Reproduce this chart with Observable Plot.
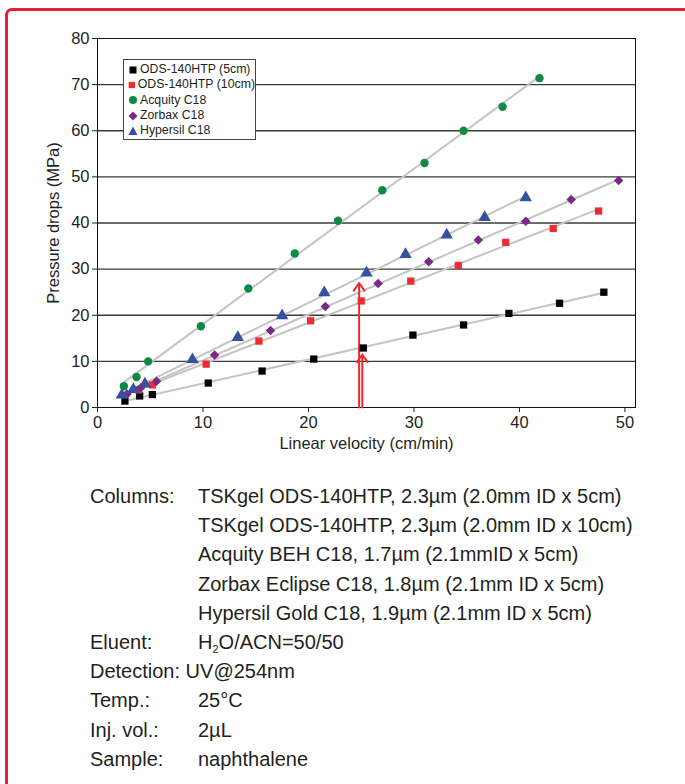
<!DOCTYPE html>
<html>
<head>
<meta charset="utf-8">
<script src="https://cdn.jsdelivr.net/npm/d3@7"></script>
<script src="https://cdn.jsdelivr.net/npm/@observablehq/plot@0.6"></script>
<style>
  html, body { margin: 0; padding: 0; background: #fff; }
  body { width: 685px; height: 784px; overflow: hidden; position: relative; font-family: "Liberation Sans", Arial, sans-serif; color: #231f20; }
  #border { position: absolute; left: 5px; top: 8px; width: 720px; height: 820px; border: 3px solid #e2203c; border-radius: 7px; box-sizing: border-box; }
  #chart { position: absolute; left: 0; top: 0; }
  #legend { position: absolute; left: 123px; top: 59px; width: 133px; height: 81px; border: 1px solid #444; background: #fff; box-sizing: border-box; padding-top: 2px; }
  #legend .item { height: 15.3px; line-height: 15.3px; font-size: 12.3px; white-space: nowrap; display: flex; align-items: center; }
  #legend svg { width: 14px; height: 12px; margin-left: 2px; margin-right: 0px; }
  #notes { position: absolute; left: 90px; top: 482px; font-size: 20px; line-height: 29.2px; white-space: nowrap; }
  #notes .lab { display: inline-block; width: 108px; }
  #notes sub { font-size: 11px; vertical-align: -4px; line-height: 0; }
</style>
</head>
<body>
<div id="border"></div>
<div id="chart"></div>
<div id="legend"></div>
<div id="notes"></div>
<script>
// ---------- data ----------
const seriesNames = ["ODS-140HTP (5cm)", "ODS-140HTP (10cm)", "Acquity C18", "Zorbax C18", "Hypersil C18"];
const seriesColors = ["#000000", "#ee2b2e", "#0f8a46", "#7a2a86", "#3650a2"];
const seriesSymbols = ["square", "square", "circle", "diamond2", "triangle"];

const velocityODS5 = [2.6, 4.0, 5.2, 10.5, 15.6, 20.5, 25.2, 29.9, 34.7, 39.0, 43.8, 48.0];
const pressureODS5 = [1.4, 2.5, 2.8, 5.3, 7.9, 10.5, 12.9, 15.7, 17.9, 20.4, 22.6, 25.0];

const velocityODS10 = [3.9, 5.2, 10.3, 15.3, 20.2, 25.0, 29.7, 34.2, 38.7, 43.2, 47.5];
const pressureODS10 = [3.8, 4.9, 9.4, 14.4, 18.8, 23.1, 27.4, 30.8, 35.8, 38.8, 42.6];

const velocityAcquity = [2.5, 3.7, 4.8, 9.8, 14.3, 18.7, 22.8, 27.0, 31.0, 34.7, 38.4, 41.9];
const pressureAcquity = [4.6, 6.6, 10.0, 17.6, 25.8, 33.4, 40.5, 47.1, 53.0, 60.0, 65.2, 71.4];

const velocityZorbax = [2.8, 4.1, 5.6, 11.1, 16.4, 21.6, 26.6, 31.4, 36.1, 40.6, 44.9, 49.4];
const pressureZorbax = [2.9, 4.3, 5.7, 11.4, 16.7, 21.9, 26.9, 31.6, 36.3, 40.4, 45.1, 49.2];

const velocityHypersil = [2.3, 3.4, 4.5, 9.0, 13.3, 17.5, 21.5, 25.5, 29.2, 33.1, 36.7, 40.6];
const pressureHypersil = [2.7, 3.9, 5.1, 10.4, 15.2, 19.9, 24.9, 29.2, 33.2, 37.4, 41.2, 45.5];

const xTicks = [0, 10, 20, 30, 40, 50];
const yTicks = [0, 10, 20, 30, 40, 50, 60, 70, 80];
const gridValues = [10, 20, 30, 40, 50, 60, 70];

const arrowVelocity = [24.8, 25.1];
const arrowPressure = [27.0, 11.5];

const noteLabels = ["Columns:", "", "", "", "", "Eluent:", "Detection:", "Temp.:", "Inj. vol.:", "Sample:"];
const noteValues = [
  "TSKgel ODS-140HTP, 2.3µm (2.0mm ID x 5cm)",
  "TSKgel ODS-140HTP, 2.3µm (2.0mm ID x 10cm)",
  "Acquity BEH C18, 1.7µm (2.1mmID x 5cm)",
  "Zorbax Eclipse C18, 1.8µm (2.1mm ID x 5cm)",
  "Hypersil Gold C18, 1.9µm (2.1mm ID x 5cm)",
  "H<sub>2</sub>O/ACN=50/50",
  "UV@254nm",
  "25°C",
  "2µL",
  "naphthalene"
];

// ---------- build table ----------
const allX = [velocityODS5, velocityODS10, velocityAcquity, velocityZorbax, velocityHypersil];
const allY = [pressureODS5, pressureODS10, pressureAcquity, pressureZorbax, pressureHypersil];
const points = [];
allX.forEach((xs, s) => xs.forEach((v, i) => points.push({series: seriesNames[s], x: v, y: allY[s][i], si: s})));
const arrows = arrowVelocity.map((v, i) => ({x: v, y: arrowPressure[i]}));

const fontFam = '"Liberation Sans", Arial, sans-serif';

const chart = Plot.plot({
  width: 685,
  height: 455,
  marginLeft: 97,
  marginRight: 50,
  marginTop: 38,
  marginBottom: 48,
  style: {fontFamily: fontFam, fontSize: "16.5px", color: "#231f20", background: "transparent"},
  x: {domain: [0, 51], ticks: xTicks, tickSize: 5, tickPadding: 4, label: "Linear velocity (cm/min)", labelArrow: "none", labelAnchor: "center", labelOffset: 41, line: true},
  y: {domain: [0, 80], ticks: yTicks, tickSize: 5, tickPadding: 3, label: "Pressure drops (MPa)", labelArrow: "none", labelAnchor: "center", labelOffset: 50, line: true},
  color: {domain: seriesNames, range: seriesColors},
  symbol: {domain: seriesNames, range: seriesSymbols},
  marks: [
    Plot.ruleY(gridValues, {stroke: "#3a3a3a", strokeWidth: 1.3}),
    Plot.frame({stroke: "#111", strokeWidth: 1}),
    Plot.linearRegressionY(points, {x: "x", y: "y", z: "series", stroke: "#c4c4c4", strokeWidth: 2, ci: 0}),
    Plot.arrow(arrows, {x1: "x", y1: 0, x2: "x", y2: "y", stroke: "#ee2b2e", strokeWidth: 2, headLength: 7, headAngle: 70}),
    Plot.dot(points.filter(d => d.si < 2), {x: "x", y: "y", symbol: "series", fill: "series", r: 4.1}),
    Plot.dot(points.filter(d => d.si === 2), {x: "x", y: "y", symbol: "series", fill: "series", r: 4.2}),
    Plot.dot(points.filter(d => d.si === 3), {x: "x", y: "y", symbol: "series", fill: "series", r: 4.3}),
    Plot.dot(points.filter(d => d.si === 4), {x: "x", y: "y", symbol: "series", fill: "series", r: 4.6})
  ]
});
// strip any automatic label arrows (older 0.6 releases)
chart.querySelectorAll("text").forEach(t => {
  if (/[→↑←↓]/.test(t.textContent)) t.textContent = t.textContent.replace(/\s*[→↑←↓]\s*/g, "").trim();
});
document.getElementById("chart").appendChild(chart);

// ---------- legend ----------
const shapes = {
  square: c => `<rect x="3" y="2.5" width="7" height="7" fill="${c}"/>`,
  circle: c => `<circle cx="6.5" cy="6" r="4" fill="${c}"/>`,
  diamond2: c => `<path d="M6.5 1.5 L11 6 L6.5 10.5 L2 6 Z" fill="${c}"/>`,
  triangle: c => `<path d="M6.5 1.5 L11 10 L2 10 Z" fill="${c}"/>`
};
document.getElementById("legend").innerHTML = seriesNames.map((n, i) =>
  `<div class="item"><svg viewBox="0 0 13 12">${shapes[seriesSymbols[i]](seriesColors[i])}</svg><span>${n}</span></div>`
).join("");

// ---------- notes ----------
document.getElementById("notes").innerHTML = noteLabels.map((l, i) =>
  l === "Detection:" ? `<div>${l} ${noteValues[i]}</div>` : `<div><span class="lab">${l}</span>${noteValues[i]}</div>`
).join("");
</script>
</body>
</html>
